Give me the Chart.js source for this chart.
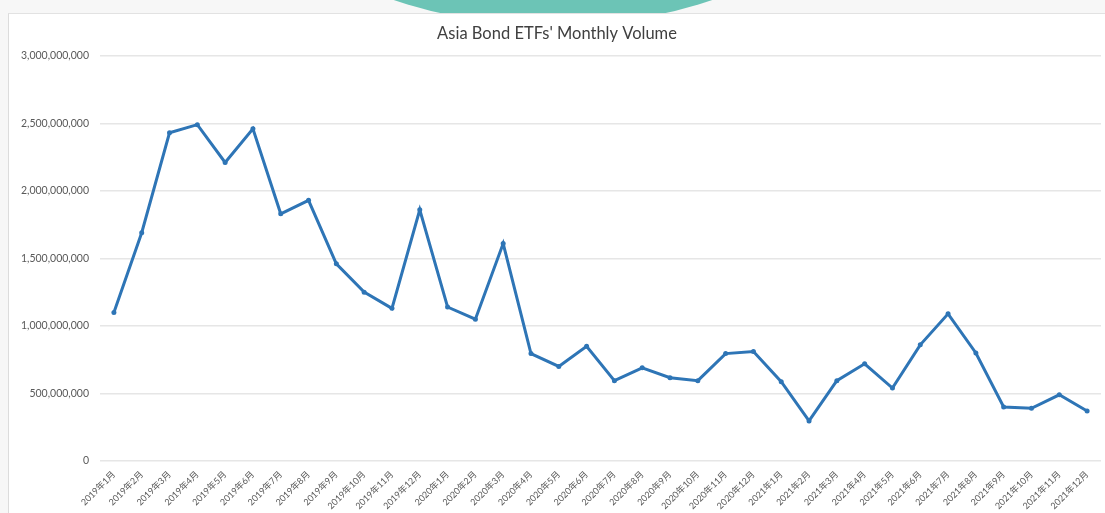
<!DOCTYPE html>
<html>
<head>
<meta charset="utf-8">
<script src="https://cdn.jsdelivr.net/npm/chart.js@4.4.1/dist/chart.umd.min.js"></script>
<style>
  html, body { margin: 0; padding: 0; background: #f7f7f7; width: 1105px; height: 513px; overflow: hidden; position: relative; }
  #teal { position: absolute; width: 1002px; height: 1002px; border-radius: 50%; background: #6cc4b6; left: 52px; top: -976px; z-index: 0; }
  #card { position: absolute; left: 8px; top: 13px; width: 1097px; height: 500px; background: #fff; border-left: 1px solid #dcdcdc; border-top: 1px solid #e2e2e2; box-sizing: border-box; z-index: 1; }
  canvas { display: block; }
</style>
</head>
<body>
<div id="teal"></div>
<div id="card"><canvas id="c" width="1096" height="499"></canvas></div>
<script>
const categories = [
  "2019年1月","2019年2月","2019年3月","2019年4月","2019年5月","2019年6月",
  "2019年7月","2019年8月","2019年9月","2019年10月","2019年11月","2019年12月",
  "2020年1月","2020年2月","2020年3月","2020年4月","2020年5月","2020年6月",
  "2020年7月","2020年8月","2020年9月","2020年10月","2020年11月","2020年12月",
  "2021年1月","2021年2月","2021年3月","2021年4月","2021年5月","2021年6月",
  "2021年7月","2021年8月","2021年9月","2021年10月","2021年11月","2021年12月"
];
const volume = [
  1100000000, 1690000000, 2430000000, 2490000000, 2210000000, 2460000000,
  1830000000, 1930000000, 1460000000, 1250000000, 1130000000, 1860000000,
  1140000000, 1050000000, 1610000000, 795000000, 700000000, 850000000,
  595000000, 690000000, 617000000, 595000000, 795000000, 810000000,
  587000000, 297000000, 595000000, 720000000, 540000000, 860000000,
  1090000000, 800000000, 400000000, 390000000, 490000000, 370000000
];
const titleText = "Asia Bond ETFs' Monthly Volume";
const yMin = 0, yMax = 3000000000, yStep = 500000000;

const fontFam = "Lato, 'Noto Sans CJK SC', sans-serif";
new Chart(document.getElementById('c'), {
  type: 'line',
  data: {
    labels: categories,
    datasets: [{
      label: 'Volume',
      data: volume,
      borderColor: '#2e75b6',
      backgroundColor: '#2e75b6',
      borderWidth: 3,
      pointRadius: 2.5,
      pointBorderWidth: 0,
      pointBackgroundColor: '#2e75b6',
      tension: 0
    }]
  },
  options: {
    responsive: false,
    animation: false,
    layout: { padding: { left: 0, right: 0, top: 0, bottom: 0 } },
    plugins: {
      legend: { display: false },
      tooltip: { enabled: false },
      title: {
        display: true,
        text: titleText,
        color: '#404040',
        font: { family: fontFam, size: 16.5, weight: 'normal' },
        padding: { top: 10, bottom: 12 }
      }
    },
    scales: {
      x: {
        offset: true,
        grid: { display: false },
        border: { display: false },
        ticks: {
          autoSkip: false,
          maxRotation: 45,
          minRotation: 45,
          color: '#595959',
          font: { family: fontFam, size: 9 },
          padding: 0
        },
        afterFit(s) { s.height = 52; }
      },
      y: {
        min: yMin,
        max: yMax,
        grid: { color: '#e6e6e6', lineWidth: 1.5, drawTicks: false },
        border: { display: false },
        ticks: {
          stepSize: yStep,
          color: '#595959',
          font: { family: fontFam, size: 10.5 },
          padding: 11,
          callback: v => v.toLocaleString('en-US')
        },
        afterFit(s) { s.width = 91; }
      }
    }
  }
});
</script>
</body>
</html>
